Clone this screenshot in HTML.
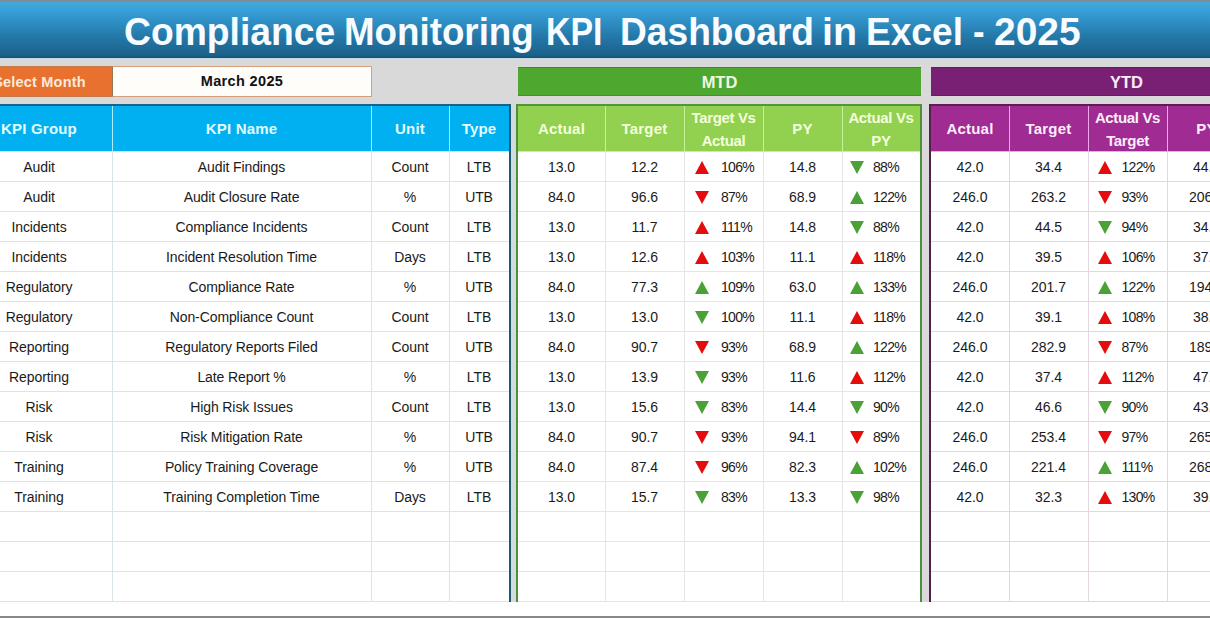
<!DOCTYPE html><html><head><meta charset="utf-8"><style>
*{margin:0;padding:0;box-sizing:border-box}
html,body{width:1210px;height:618px;overflow:hidden;background:#fff;font-family:"Liberation Sans",sans-serif}
.a{position:absolute}
.topstrip{left:0;top:0;width:1210px;height:2px;background:#7d8d98}
.title{left:0;top:2px;width:1210px;height:56px;background:linear-gradient(#4ba7d6,#38a3da 12%,#2f8fc4 35%,#2579aa 60%,#1e6894 85%,#1b5f88 96%,#15506f);color:#f6fcff;font-weight:bold;font-size:38.5px;line-height:59px;text-align:left}
.title span{position:absolute;top:0;white-space:nowrap;transform-origin:0 0}
.band{left:0;top:58px;width:1210px;height:543px;background:#d9d9d9}
.band2{left:0;top:58px;width:1210px;height:1px;background:#c6dbe6}
.sel{left:-34px;top:66px;width:147px;height:31px;border-top:1px solid #c27a48;border-bottom:1px solid #c27a48;background:#e8712f;color:#fbe9dc;font-weight:bold;font-size:14.5px;line-height:31px;letter-spacing:0.2px;text-align:center}
.month{left:112px;top:66px;width:260px;height:31px;background:#fffdfa;border:1px solid #d3a07a;border-left-color:#9c7452;color:#111;font-weight:bold;font-size:14.5px;line-height:29px;text-align:center;letter-spacing:0.35px}
.bar{top:67px;height:29px;font-weight:bold;font-size:16.5px;line-height:30px;text-align:center;box-shadow:inset 0 1px 0 rgba(0,0,0,.18),inset 0 -1px 0 rgba(0,0,0,.12)}
.mtd{left:518px;width:403px;background:#4ea72e;color:#eef9e4}
.ytd{left:931px;width:391px;background:#791f74;color:#fbeefa}
.c{position:absolute;height:30px;line-height:32px;font-size:14px;color:#1a1a1a;text-align:center;white-space:nowrap}
.hd{position:absolute;top:106px;height:45px;font-weight:bold;font-size:15px;letter-spacing:0.2px;text-align:center;display:flex;align-items:center;justify-content:center;line-height:23px}
.ar{position:absolute;top:10px}
.n{display:inline-block;font-size:14px}
</style></head><body>

<div class="a topstrip"></div>
<div class="a title"><span style="left:124.03px;transform:scaleX(0.9676)">Compliance</span><span style="left:344.39px;transform:scaleX(0.9541)">Monitoring</span><span style="left:546.24px;transform:scaleX(0.8800)">KPI</span><span style="left:619.57px;transform:scaleX(0.9650)">Dashboard</span><span style="left:821.73px;transform:scaleX(1.0241)">in</span><span style="left:865.87px;transform:scaleX(0.9635)">Excel</span><span style="left:972.70px;transform:scaleX(0.9000)">-</span><span style="left:993.99px;transform:scaleX(1.0119)">2025</span></div>
<div class="a band"></div><div class="a band2"></div><div class="a" style="left:511px;top:104px;width:5px;height:498px;background:#d3dcdc"></div><div class="a" style="left:922px;top:104px;width:7px;height:498px;background:#dcd9dc"></div>
<div class="a sel">Select Month</div>
<div class="a month">March 2025</div>
<div class="a bar mtd">MTD</div>
<div class="a bar ytd">YTD</div>
<div class="a" style="left:-34px;top:151px;width:543px;height:450px;background:#fff"></div>
<div class="a" style="left:-34px;top:106px;width:543px;height:45px;background:#00b0f0"></div>
<div class="a" style="left:-34px;top:181px;width:543px;height:1px;background:#dae5e9"></div>
<div class="a" style="left:-34px;top:211px;width:543px;height:1px;background:#dae5e9"></div>
<div class="a" style="left:-34px;top:241px;width:543px;height:1px;background:#dae5e9"></div>
<div class="a" style="left:-34px;top:271px;width:543px;height:1px;background:#dae5e9"></div>
<div class="a" style="left:-34px;top:301px;width:543px;height:1px;background:#dae5e9"></div>
<div class="a" style="left:-34px;top:331px;width:543px;height:1px;background:#dae5e9"></div>
<div class="a" style="left:-34px;top:361px;width:543px;height:1px;background:#dae5e9"></div>
<div class="a" style="left:-34px;top:391px;width:543px;height:1px;background:#dae5e9"></div>
<div class="a" style="left:-34px;top:421px;width:543px;height:1px;background:#dae5e9"></div>
<div class="a" style="left:-34px;top:451px;width:543px;height:1px;background:#dae5e9"></div>
<div class="a" style="left:-34px;top:481px;width:543px;height:1px;background:#dae5e9"></div>
<div class="a" style="left:-34px;top:511px;width:543px;height:1px;background:#dae5e9"></div>
<div class="a" style="left:-34px;top:541px;width:543px;height:1px;background:#dae5e9"></div>
<div class="a" style="left:-34px;top:571px;width:543px;height:1px;background:#dae5e9"></div>
<div class="a" style="left:-34px;top:601px;width:543px;height:1px;background:#dae5e9"></div>
<div class="a" style="left:112px;top:151px;width:1px;height:450px;background:#dae5e9"></div>
<div class="a" style="left:112px;top:106px;width:1px;height:45px;background:#a8f0ff"></div>
<div class="a" style="left:371px;top:151px;width:1px;height:450px;background:#dae5e9"></div>
<div class="a" style="left:371px;top:106px;width:1px;height:45px;background:#a8f0ff"></div>
<div class="a" style="left:449px;top:151px;width:1px;height:450px;background:#dae5e9"></div>
<div class="a" style="left:449px;top:106px;width:1px;height:45px;background:#a8f0ff"></div>
<div class="a" style="left:-34px;top:151px;width:543px;height:1px;background:#a8f0ff"></div>
<div class="hd" style="left:-34px;width:146px;color:#e4fbff">KPI Group</div>
<div class="hd" style="left:112px;width:259px;color:#e4fbff">KPI Name</div>
<div class="hd" style="left:371px;width:78px;color:#e4fbff">Unit</div>
<div class="hd" style="left:449px;width:60px;color:#e4fbff">Type</div>
<div class="c" style="left:-34px;top:151px;width:146px;letter-spacing:-0.1px">Audit</div>
<div class="c" style="left:112px;top:151px;width:259px;letter-spacing:-0.1px">Audit Findings</div>
<div class="c" style="left:371px;top:151px;width:78px;letter-spacing:-0.1px">Count</div>
<div class="c" style="left:449px;top:151px;width:60px;letter-spacing:-0.1px">LTB</div>
<div class="c" style="left:-34px;top:181px;width:146px;letter-spacing:-0.1px">Audit</div>
<div class="c" style="left:112px;top:181px;width:259px;letter-spacing:-0.1px">Audit Closure Rate</div>
<div class="c" style="left:371px;top:181px;width:78px;letter-spacing:-0.1px">%</div>
<div class="c" style="left:449px;top:181px;width:60px;letter-spacing:-0.1px">UTB</div>
<div class="c" style="left:-34px;top:211px;width:146px;letter-spacing:-0.1px">Incidents</div>
<div class="c" style="left:112px;top:211px;width:259px;letter-spacing:-0.1px">Compliance Incidents</div>
<div class="c" style="left:371px;top:211px;width:78px;letter-spacing:-0.1px">Count</div>
<div class="c" style="left:449px;top:211px;width:60px;letter-spacing:-0.1px">LTB</div>
<div class="c" style="left:-34px;top:241px;width:146px;letter-spacing:-0.1px">Incidents</div>
<div class="c" style="left:112px;top:241px;width:259px;letter-spacing:-0.1px">Incident Resolution Time</div>
<div class="c" style="left:371px;top:241px;width:78px;letter-spacing:-0.1px">Days</div>
<div class="c" style="left:449px;top:241px;width:60px;letter-spacing:-0.1px">LTB</div>
<div class="c" style="left:-34px;top:271px;width:146px;letter-spacing:-0.1px">Regulatory</div>
<div class="c" style="left:112px;top:271px;width:259px;letter-spacing:-0.1px">Compliance Rate</div>
<div class="c" style="left:371px;top:271px;width:78px;letter-spacing:-0.1px">%</div>
<div class="c" style="left:449px;top:271px;width:60px;letter-spacing:-0.1px">UTB</div>
<div class="c" style="left:-34px;top:301px;width:146px;letter-spacing:-0.1px">Regulatory</div>
<div class="c" style="left:112px;top:301px;width:259px;letter-spacing:-0.1px">Non-Compliance Count</div>
<div class="c" style="left:371px;top:301px;width:78px;letter-spacing:-0.1px">Count</div>
<div class="c" style="left:449px;top:301px;width:60px;letter-spacing:-0.1px">LTB</div>
<div class="c" style="left:-34px;top:331px;width:146px;letter-spacing:-0.1px">Reporting</div>
<div class="c" style="left:112px;top:331px;width:259px;letter-spacing:-0.1px">Regulatory Reports Filed</div>
<div class="c" style="left:371px;top:331px;width:78px;letter-spacing:-0.1px">Count</div>
<div class="c" style="left:449px;top:331px;width:60px;letter-spacing:-0.1px">UTB</div>
<div class="c" style="left:-34px;top:361px;width:146px;letter-spacing:-0.1px">Reporting</div>
<div class="c" style="left:112px;top:361px;width:259px;letter-spacing:-0.1px">Late Report %</div>
<div class="c" style="left:371px;top:361px;width:78px;letter-spacing:-0.1px">%</div>
<div class="c" style="left:449px;top:361px;width:60px;letter-spacing:-0.1px">LTB</div>
<div class="c" style="left:-34px;top:391px;width:146px;letter-spacing:-0.1px">Risk</div>
<div class="c" style="left:112px;top:391px;width:259px;letter-spacing:-0.1px">High Risk Issues</div>
<div class="c" style="left:371px;top:391px;width:78px;letter-spacing:-0.1px">Count</div>
<div class="c" style="left:449px;top:391px;width:60px;letter-spacing:-0.1px">LTB</div>
<div class="c" style="left:-34px;top:421px;width:146px;letter-spacing:-0.1px">Risk</div>
<div class="c" style="left:112px;top:421px;width:259px;letter-spacing:-0.1px">Risk Mitigation Rate</div>
<div class="c" style="left:371px;top:421px;width:78px;letter-spacing:-0.1px">%</div>
<div class="c" style="left:449px;top:421px;width:60px;letter-spacing:-0.1px">UTB</div>
<div class="c" style="left:-34px;top:451px;width:146px;letter-spacing:-0.1px">Training</div>
<div class="c" style="left:112px;top:451px;width:259px;letter-spacing:-0.1px">Policy Training Coverage</div>
<div class="c" style="left:371px;top:451px;width:78px;letter-spacing:-0.1px">%</div>
<div class="c" style="left:449px;top:451px;width:60px;letter-spacing:-0.1px">UTB</div>
<div class="c" style="left:-34px;top:481px;width:146px;letter-spacing:-0.1px">Training</div>
<div class="c" style="left:112px;top:481px;width:259px;letter-spacing:-0.1px">Training Completion Time</div>
<div class="c" style="left:371px;top:481px;width:78px;letter-spacing:-0.1px">Days</div>
<div class="c" style="left:449px;top:481px;width:60px;letter-spacing:-0.1px">LTB</div>
<div class="a" style="left:-34px;top:104px;width:545px;height:2px;background:#16638c"></div>
<div class="a" style="left:509px;top:104px;width:2px;height:498px;background:#1f5a72"></div>
<div class="a" style="left:518px;top:151px;width:402px;height:450px;background:#fff"></div>
<div class="a" style="left:518px;top:106px;width:402px;height:45px;background:#92d050"></div>
<div class="a" style="left:518px;top:181px;width:402px;height:1px;background:#e3e7e0"></div>
<div class="a" style="left:518px;top:211px;width:402px;height:1px;background:#e3e7e0"></div>
<div class="a" style="left:518px;top:241px;width:402px;height:1px;background:#e3e7e0"></div>
<div class="a" style="left:518px;top:271px;width:402px;height:1px;background:#e3e7e0"></div>
<div class="a" style="left:518px;top:301px;width:402px;height:1px;background:#e3e7e0"></div>
<div class="a" style="left:518px;top:331px;width:402px;height:1px;background:#e3e7e0"></div>
<div class="a" style="left:518px;top:361px;width:402px;height:1px;background:#e3e7e0"></div>
<div class="a" style="left:518px;top:391px;width:402px;height:1px;background:#e3e7e0"></div>
<div class="a" style="left:518px;top:421px;width:402px;height:1px;background:#e3e7e0"></div>
<div class="a" style="left:518px;top:451px;width:402px;height:1px;background:#e3e7e0"></div>
<div class="a" style="left:518px;top:481px;width:402px;height:1px;background:#e3e7e0"></div>
<div class="a" style="left:518px;top:511px;width:402px;height:1px;background:#e3e7e0"></div>
<div class="a" style="left:518px;top:541px;width:402px;height:1px;background:#e3e7e0"></div>
<div class="a" style="left:518px;top:571px;width:402px;height:1px;background:#e3e7e0"></div>
<div class="a" style="left:518px;top:601px;width:402px;height:1px;background:#e3e7e0"></div>
<div class="a" style="left:605px;top:151px;width:1px;height:450px;background:#e3e7e0"></div>
<div class="a" style="left:605px;top:106px;width:1px;height:45px;background:#c4f29a"></div>
<div class="a" style="left:684px;top:151px;width:1px;height:450px;background:#e3e7e0"></div>
<div class="a" style="left:684px;top:106px;width:1px;height:45px;background:#c4f29a"></div>
<div class="a" style="left:763px;top:151px;width:1px;height:450px;background:#e3e7e0"></div>
<div class="a" style="left:763px;top:106px;width:1px;height:45px;background:#c4f29a"></div>
<div class="a" style="left:842px;top:151px;width:1px;height:450px;background:#e3e7e0"></div>
<div class="a" style="left:842px;top:106px;width:1px;height:45px;background:#c4f29a"></div>
<div class="a" style="left:518px;top:151px;width:402px;height:1px;background:#c4f29a"></div>
<div class="hd" style="left:518px;width:87px;color:#f4ffdc">Actual</div>
<div class="hd" style="left:605px;width:79px;color:#f4ffdc">Target</div>
<div class="hd" style="left:684px;width:79px;color:#f4ffdc;letter-spacing:-0.35px">Target Vs<br>Actual</div>
<div class="hd" style="left:763px;width:79px;color:#f4ffdc">PY</div>
<div class="hd" style="left:842px;width:78px;color:#f4ffdc;letter-spacing:-0.35px">Actual Vs<br>PY</div>
<div class="c" style="left:518px;top:151px;width:87px"><span class="n">13.0</span></div>
<div class="c" style="left:605px;top:151px;width:79px"><span class="n">12.2</span></div>
<div class="c" style="left:684px;top:151px;width:79px"><svg class="ar" width="14" height="13" viewBox="0 0 14 13" style="left:10.5px;top:10px"><polygon points="0,13 7,0 14,13" fill="#e40c0c"/></svg><span class="n" style="position:absolute;left:37px;letter-spacing:-0.7px">106%</span></div>
<div class="c" style="left:763px;top:151px;width:79px"><span class="n">14.8</span></div>
<div class="c" style="left:842px;top:151px;width:78px"><svg class="ar" width="14" height="13" viewBox="0 0 14 13" style="left:7.5px;top:9.5px"><polygon points="0,0 14,0 7,13" fill="#4aa135"/></svg><span class="n" style="position:absolute;left:31px;letter-spacing:-0.7px">88%</span></div>
<div class="c" style="left:518px;top:181px;width:87px"><span class="n">84.0</span></div>
<div class="c" style="left:605px;top:181px;width:79px"><span class="n">96.6</span></div>
<div class="c" style="left:684px;top:181px;width:79px"><svg class="ar" width="14" height="13" viewBox="0 0 14 13" style="left:10.5px;top:9.5px"><polygon points="0,0 14,0 7,13" fill="#e40c0c"/></svg><span class="n" style="position:absolute;left:37px;letter-spacing:-0.7px">87%</span></div>
<div class="c" style="left:763px;top:181px;width:79px"><span class="n">68.9</span></div>
<div class="c" style="left:842px;top:181px;width:78px"><svg class="ar" width="14" height="13" viewBox="0 0 14 13" style="left:7.5px;top:10px"><polygon points="0,13 7,0 14,13" fill="#4aa135"/></svg><span class="n" style="position:absolute;left:31px;letter-spacing:-0.7px">122%</span></div>
<div class="c" style="left:518px;top:211px;width:87px"><span class="n">13.0</span></div>
<div class="c" style="left:605px;top:211px;width:79px"><span class="n">11.7</span></div>
<div class="c" style="left:684px;top:211px;width:79px"><svg class="ar" width="14" height="13" viewBox="0 0 14 13" style="left:10.5px;top:10px"><polygon points="0,13 7,0 14,13" fill="#e40c0c"/></svg><span class="n" style="position:absolute;left:37px;letter-spacing:-0.7px">111%</span></div>
<div class="c" style="left:763px;top:211px;width:79px"><span class="n">14.8</span></div>
<div class="c" style="left:842px;top:211px;width:78px"><svg class="ar" width="14" height="13" viewBox="0 0 14 13" style="left:7.5px;top:9.5px"><polygon points="0,0 14,0 7,13" fill="#4aa135"/></svg><span class="n" style="position:absolute;left:31px;letter-spacing:-0.7px">88%</span></div>
<div class="c" style="left:518px;top:241px;width:87px"><span class="n">13.0</span></div>
<div class="c" style="left:605px;top:241px;width:79px"><span class="n">12.6</span></div>
<div class="c" style="left:684px;top:241px;width:79px"><svg class="ar" width="14" height="13" viewBox="0 0 14 13" style="left:10.5px;top:10px"><polygon points="0,13 7,0 14,13" fill="#e40c0c"/></svg><span class="n" style="position:absolute;left:37px;letter-spacing:-0.7px">103%</span></div>
<div class="c" style="left:763px;top:241px;width:79px"><span class="n">11.1</span></div>
<div class="c" style="left:842px;top:241px;width:78px"><svg class="ar" width="14" height="13" viewBox="0 0 14 13" style="left:7.5px;top:10px"><polygon points="0,13 7,0 14,13" fill="#e40c0c"/></svg><span class="n" style="position:absolute;left:31px;letter-spacing:-0.7px">118%</span></div>
<div class="c" style="left:518px;top:271px;width:87px"><span class="n">84.0</span></div>
<div class="c" style="left:605px;top:271px;width:79px"><span class="n">77.3</span></div>
<div class="c" style="left:684px;top:271px;width:79px"><svg class="ar" width="14" height="13" viewBox="0 0 14 13" style="left:10.5px;top:10px"><polygon points="0,13 7,0 14,13" fill="#4aa135"/></svg><span class="n" style="position:absolute;left:37px;letter-spacing:-0.7px">109%</span></div>
<div class="c" style="left:763px;top:271px;width:79px"><span class="n">63.0</span></div>
<div class="c" style="left:842px;top:271px;width:78px"><svg class="ar" width="14" height="13" viewBox="0 0 14 13" style="left:7.5px;top:10px"><polygon points="0,13 7,0 14,13" fill="#4aa135"/></svg><span class="n" style="position:absolute;left:31px;letter-spacing:-0.7px">133%</span></div>
<div class="c" style="left:518px;top:301px;width:87px"><span class="n">13.0</span></div>
<div class="c" style="left:605px;top:301px;width:79px"><span class="n">13.0</span></div>
<div class="c" style="left:684px;top:301px;width:79px"><svg class="ar" width="14" height="13" viewBox="0 0 14 13" style="left:10.5px;top:9.5px"><polygon points="0,0 14,0 7,13" fill="#4aa135"/></svg><span class="n" style="position:absolute;left:37px;letter-spacing:-0.7px">100%</span></div>
<div class="c" style="left:763px;top:301px;width:79px"><span class="n">11.1</span></div>
<div class="c" style="left:842px;top:301px;width:78px"><svg class="ar" width="14" height="13" viewBox="0 0 14 13" style="left:7.5px;top:10px"><polygon points="0,13 7,0 14,13" fill="#e40c0c"/></svg><span class="n" style="position:absolute;left:31px;letter-spacing:-0.7px">118%</span></div>
<div class="c" style="left:518px;top:331px;width:87px"><span class="n">84.0</span></div>
<div class="c" style="left:605px;top:331px;width:79px"><span class="n">90.7</span></div>
<div class="c" style="left:684px;top:331px;width:79px"><svg class="ar" width="14" height="13" viewBox="0 0 14 13" style="left:10.5px;top:9.5px"><polygon points="0,0 14,0 7,13" fill="#e40c0c"/></svg><span class="n" style="position:absolute;left:37px;letter-spacing:-0.7px">93%</span></div>
<div class="c" style="left:763px;top:331px;width:79px"><span class="n">68.9</span></div>
<div class="c" style="left:842px;top:331px;width:78px"><svg class="ar" width="14" height="13" viewBox="0 0 14 13" style="left:7.5px;top:10px"><polygon points="0,13 7,0 14,13" fill="#4aa135"/></svg><span class="n" style="position:absolute;left:31px;letter-spacing:-0.7px">122%</span></div>
<div class="c" style="left:518px;top:361px;width:87px"><span class="n">13.0</span></div>
<div class="c" style="left:605px;top:361px;width:79px"><span class="n">13.9</span></div>
<div class="c" style="left:684px;top:361px;width:79px"><svg class="ar" width="14" height="13" viewBox="0 0 14 13" style="left:10.5px;top:9.5px"><polygon points="0,0 14,0 7,13" fill="#4aa135"/></svg><span class="n" style="position:absolute;left:37px;letter-spacing:-0.7px">93%</span></div>
<div class="c" style="left:763px;top:361px;width:79px"><span class="n">11.6</span></div>
<div class="c" style="left:842px;top:361px;width:78px"><svg class="ar" width="14" height="13" viewBox="0 0 14 13" style="left:7.5px;top:10px"><polygon points="0,13 7,0 14,13" fill="#e40c0c"/></svg><span class="n" style="position:absolute;left:31px;letter-spacing:-0.7px">112%</span></div>
<div class="c" style="left:518px;top:391px;width:87px"><span class="n">13.0</span></div>
<div class="c" style="left:605px;top:391px;width:79px"><span class="n">15.6</span></div>
<div class="c" style="left:684px;top:391px;width:79px"><svg class="ar" width="14" height="13" viewBox="0 0 14 13" style="left:10.5px;top:9.5px"><polygon points="0,0 14,0 7,13" fill="#4aa135"/></svg><span class="n" style="position:absolute;left:37px;letter-spacing:-0.7px">83%</span></div>
<div class="c" style="left:763px;top:391px;width:79px"><span class="n">14.4</span></div>
<div class="c" style="left:842px;top:391px;width:78px"><svg class="ar" width="14" height="13" viewBox="0 0 14 13" style="left:7.5px;top:9.5px"><polygon points="0,0 14,0 7,13" fill="#4aa135"/></svg><span class="n" style="position:absolute;left:31px;letter-spacing:-0.7px">90%</span></div>
<div class="c" style="left:518px;top:421px;width:87px"><span class="n">84.0</span></div>
<div class="c" style="left:605px;top:421px;width:79px"><span class="n">90.7</span></div>
<div class="c" style="left:684px;top:421px;width:79px"><svg class="ar" width="14" height="13" viewBox="0 0 14 13" style="left:10.5px;top:9.5px"><polygon points="0,0 14,0 7,13" fill="#e40c0c"/></svg><span class="n" style="position:absolute;left:37px;letter-spacing:-0.7px">93%</span></div>
<div class="c" style="left:763px;top:421px;width:79px"><span class="n">94.1</span></div>
<div class="c" style="left:842px;top:421px;width:78px"><svg class="ar" width="14" height="13" viewBox="0 0 14 13" style="left:7.5px;top:9.5px"><polygon points="0,0 14,0 7,13" fill="#e40c0c"/></svg><span class="n" style="position:absolute;left:31px;letter-spacing:-0.7px">89%</span></div>
<div class="c" style="left:518px;top:451px;width:87px"><span class="n">84.0</span></div>
<div class="c" style="left:605px;top:451px;width:79px"><span class="n">87.4</span></div>
<div class="c" style="left:684px;top:451px;width:79px"><svg class="ar" width="14" height="13" viewBox="0 0 14 13" style="left:10.5px;top:9.5px"><polygon points="0,0 14,0 7,13" fill="#e40c0c"/></svg><span class="n" style="position:absolute;left:37px;letter-spacing:-0.7px">96%</span></div>
<div class="c" style="left:763px;top:451px;width:79px"><span class="n">82.3</span></div>
<div class="c" style="left:842px;top:451px;width:78px"><svg class="ar" width="14" height="13" viewBox="0 0 14 13" style="left:7.5px;top:10px"><polygon points="0,13 7,0 14,13" fill="#4aa135"/></svg><span class="n" style="position:absolute;left:31px;letter-spacing:-0.7px">102%</span></div>
<div class="c" style="left:518px;top:481px;width:87px"><span class="n">13.0</span></div>
<div class="c" style="left:605px;top:481px;width:79px"><span class="n">15.7</span></div>
<div class="c" style="left:684px;top:481px;width:79px"><svg class="ar" width="14" height="13" viewBox="0 0 14 13" style="left:10.5px;top:9.5px"><polygon points="0,0 14,0 7,13" fill="#4aa135"/></svg><span class="n" style="position:absolute;left:37px;letter-spacing:-0.7px">83%</span></div>
<div class="c" style="left:763px;top:481px;width:79px"><span class="n">13.3</span></div>
<div class="c" style="left:842px;top:481px;width:78px"><svg class="ar" width="14" height="13" viewBox="0 0 14 13" style="left:7.5px;top:9.5px"><polygon points="0,0 14,0 7,13" fill="#4aa135"/></svg><span class="n" style="position:absolute;left:31px;letter-spacing:-0.7px">98%</span></div>
<div class="a" style="left:518px;top:104px;width:404px;height:2px;background:#4f9a36"></div>
<div class="a" style="left:516px;top:104px;width:2px;height:498px;background:#4e8f3e"></div>
<div class="a" style="left:920px;top:104px;width:2px;height:498px;background:#4e8f3e"></div>
<div class="a" style="left:931px;top:151px;width:315px;height:450px;background:#fff"></div>
<div class="a" style="left:931px;top:106px;width:315px;height:45px;background:#a02b93"></div>
<div class="a" style="left:931px;top:181px;width:315px;height:1px;background:#e2d6e0"></div>
<div class="a" style="left:931px;top:211px;width:315px;height:1px;background:#e2d6e0"></div>
<div class="a" style="left:931px;top:241px;width:315px;height:1px;background:#e2d6e0"></div>
<div class="a" style="left:931px;top:271px;width:315px;height:1px;background:#e2d6e0"></div>
<div class="a" style="left:931px;top:301px;width:315px;height:1px;background:#e2d6e0"></div>
<div class="a" style="left:931px;top:331px;width:315px;height:1px;background:#e2d6e0"></div>
<div class="a" style="left:931px;top:361px;width:315px;height:1px;background:#e2d6e0"></div>
<div class="a" style="left:931px;top:391px;width:315px;height:1px;background:#e2d6e0"></div>
<div class="a" style="left:931px;top:421px;width:315px;height:1px;background:#e2d6e0"></div>
<div class="a" style="left:931px;top:451px;width:315px;height:1px;background:#e2d6e0"></div>
<div class="a" style="left:931px;top:481px;width:315px;height:1px;background:#e2d6e0"></div>
<div class="a" style="left:931px;top:511px;width:315px;height:1px;background:#e2d6e0"></div>
<div class="a" style="left:931px;top:541px;width:315px;height:1px;background:#e2d6e0"></div>
<div class="a" style="left:931px;top:571px;width:315px;height:1px;background:#e2d6e0"></div>
<div class="a" style="left:931px;top:601px;width:315px;height:1px;background:#e2d6e0"></div>
<div class="a" style="left:1009px;top:151px;width:1px;height:450px;background:#e2d6e0"></div>
<div class="a" style="left:1009px;top:106px;width:1px;height:45px;background:#eea6ec"></div>
<div class="a" style="left:1088px;top:151px;width:1px;height:450px;background:#e2d6e0"></div>
<div class="a" style="left:1088px;top:106px;width:1px;height:45px;background:#eea6ec"></div>
<div class="a" style="left:1167px;top:151px;width:1px;height:450px;background:#e2d6e0"></div>
<div class="a" style="left:1167px;top:106px;width:1px;height:45px;background:#eea6ec"></div>
<div class="a" style="left:931px;top:151px;width:315px;height:1px;background:#eea6ec"></div>
<div class="hd" style="left:931px;width:78px;color:#fbeefa">Actual</div>
<div class="hd" style="left:1009px;width:79px;color:#fbeefa">Target</div>
<div class="hd" style="left:1088px;width:79px;color:#fbeefa;letter-spacing:-0.35px">Actual Vs<br>Target</div>
<div class="hd" style="left:1167px;width:79px;color:#fbeefa">PY</div>
<div class="c" style="left:931px;top:151px;width:78px"><span class="n">42.0</span></div>
<div class="c" style="left:1009px;top:151px;width:79px"><span class="n">34.4</span></div>
<div class="c" style="left:1088px;top:151px;width:79px"><svg class="ar" width="14" height="13" viewBox="0 0 14 13" style="left:9.5px;top:10px"><polygon points="0,13 7,0 14,13" fill="#e40c0c"/></svg><span class="n" style="position:absolute;left:33.5px;letter-spacing:-0.7px">122%</span></div>
<div class="c" style="left:1167px;top:151px;width:79px"><span class="n">44.8</span></div>
<div class="c" style="left:931px;top:181px;width:78px"><span class="n">246.0</span></div>
<div class="c" style="left:1009px;top:181px;width:79px"><span class="n">263.2</span></div>
<div class="c" style="left:1088px;top:181px;width:79px"><svg class="ar" width="14" height="13" viewBox="0 0 14 13" style="left:9.5px;top:9.5px"><polygon points="0,0 14,0 7,13" fill="#e40c0c"/></svg><span class="n" style="position:absolute;left:33.5px;letter-spacing:-0.7px">93%</span></div>
<div class="c" style="left:1167px;top:181px;width:79px"><span class="n">206.7</span></div>
<div class="c" style="left:931px;top:211px;width:78px"><span class="n">42.0</span></div>
<div class="c" style="left:1009px;top:211px;width:79px"><span class="n">44.5</span></div>
<div class="c" style="left:1088px;top:211px;width:79px"><svg class="ar" width="14" height="13" viewBox="0 0 14 13" style="left:9.5px;top:9.5px"><polygon points="0,0 14,0 7,13" fill="#4aa135"/></svg><span class="n" style="position:absolute;left:33.5px;letter-spacing:-0.7px">94%</span></div>
<div class="c" style="left:1167px;top:211px;width:79px"><span class="n">34.4</span></div>
<div class="c" style="left:931px;top:241px;width:78px"><span class="n">42.0</span></div>
<div class="c" style="left:1009px;top:241px;width:79px"><span class="n">39.5</span></div>
<div class="c" style="left:1088px;top:241px;width:79px"><svg class="ar" width="14" height="13" viewBox="0 0 14 13" style="left:9.5px;top:10px"><polygon points="0,13 7,0 14,13" fill="#e40c0c"/></svg><span class="n" style="position:absolute;left:33.5px;letter-spacing:-0.7px">106%</span></div>
<div class="c" style="left:1167px;top:241px;width:79px"><span class="n">37.4</span></div>
<div class="c" style="left:931px;top:271px;width:78px"><span class="n">246.0</span></div>
<div class="c" style="left:1009px;top:271px;width:79px"><span class="n">201.7</span></div>
<div class="c" style="left:1088px;top:271px;width:79px"><svg class="ar" width="14" height="13" viewBox="0 0 14 13" style="left:9.5px;top:10px"><polygon points="0,13 7,0 14,13" fill="#4aa135"/></svg><span class="n" style="position:absolute;left:33.5px;letter-spacing:-0.7px">122%</span></div>
<div class="c" style="left:1167px;top:271px;width:79px"><span class="n">194.0</span></div>
<div class="c" style="left:931px;top:301px;width:78px"><span class="n">42.0</span></div>
<div class="c" style="left:1009px;top:301px;width:79px"><span class="n">39.1</span></div>
<div class="c" style="left:1088px;top:301px;width:79px"><svg class="ar" width="14" height="13" viewBox="0 0 14 13" style="left:9.5px;top:10px"><polygon points="0,13 7,0 14,13" fill="#e40c0c"/></svg><span class="n" style="position:absolute;left:33.5px;letter-spacing:-0.7px">108%</span></div>
<div class="c" style="left:1167px;top:301px;width:79px"><span class="n">38.4</span></div>
<div class="c" style="left:931px;top:331px;width:78px"><span class="n">246.0</span></div>
<div class="c" style="left:1009px;top:331px;width:79px"><span class="n">282.9</span></div>
<div class="c" style="left:1088px;top:331px;width:79px"><svg class="ar" width="14" height="13" viewBox="0 0 14 13" style="left:9.5px;top:9.5px"><polygon points="0,0 14,0 7,13" fill="#e40c0c"/></svg><span class="n" style="position:absolute;left:33.5px;letter-spacing:-0.7px">87%</span></div>
<div class="c" style="left:1167px;top:331px;width:79px"><span class="n">189.0</span></div>
<div class="c" style="left:931px;top:361px;width:78px"><span class="n">42.0</span></div>
<div class="c" style="left:1009px;top:361px;width:79px"><span class="n">37.4</span></div>
<div class="c" style="left:1088px;top:361px;width:79px"><svg class="ar" width="14" height="13" viewBox="0 0 14 13" style="left:9.5px;top:10px"><polygon points="0,13 7,0 14,13" fill="#e40c0c"/></svg><span class="n" style="position:absolute;left:33.5px;letter-spacing:-0.7px">112%</span></div>
<div class="c" style="left:1167px;top:361px;width:79px"><span class="n">47.4</span></div>
<div class="c" style="left:931px;top:391px;width:78px"><span class="n">42.0</span></div>
<div class="c" style="left:1009px;top:391px;width:79px"><span class="n">46.6</span></div>
<div class="c" style="left:1088px;top:391px;width:79px"><svg class="ar" width="14" height="13" viewBox="0 0 14 13" style="left:9.5px;top:9.5px"><polygon points="0,0 14,0 7,13" fill="#4aa135"/></svg><span class="n" style="position:absolute;left:33.5px;letter-spacing:-0.7px">90%</span></div>
<div class="c" style="left:1167px;top:391px;width:79px"><span class="n">43.4</span></div>
<div class="c" style="left:931px;top:421px;width:78px"><span class="n">246.0</span></div>
<div class="c" style="left:1009px;top:421px;width:79px"><span class="n">253.4</span></div>
<div class="c" style="left:1088px;top:421px;width:79px"><svg class="ar" width="14" height="13" viewBox="0 0 14 13" style="left:9.5px;top:9.5px"><polygon points="0,0 14,0 7,13" fill="#e40c0c"/></svg><span class="n" style="position:absolute;left:33.5px;letter-spacing:-0.7px">97%</span></div>
<div class="c" style="left:1167px;top:421px;width:79px"><span class="n">265.0</span></div>
<div class="c" style="left:931px;top:451px;width:78px"><span class="n">246.0</span></div>
<div class="c" style="left:1009px;top:451px;width:79px"><span class="n">221.4</span></div>
<div class="c" style="left:1088px;top:451px;width:79px"><svg class="ar" width="14" height="13" viewBox="0 0 14 13" style="left:9.5px;top:10px"><polygon points="0,13 7,0 14,13" fill="#4aa135"/></svg><span class="n" style="position:absolute;left:33.5px;letter-spacing:-0.7px">111%</span></div>
<div class="c" style="left:1167px;top:451px;width:79px"><span class="n">268.0</span></div>
<div class="c" style="left:931px;top:481px;width:78px"><span class="n">42.0</span></div>
<div class="c" style="left:1009px;top:481px;width:79px"><span class="n">32.3</span></div>
<div class="c" style="left:1088px;top:481px;width:79px"><svg class="ar" width="14" height="13" viewBox="0 0 14 13" style="left:9.5px;top:10px"><polygon points="0,13 7,0 14,13" fill="#e40c0c"/></svg><span class="n" style="position:absolute;left:33.5px;letter-spacing:-0.7px">130%</span></div>
<div class="c" style="left:1167px;top:481px;width:79px"><span class="n">39.4</span></div>
<div class="a" style="left:931px;top:104px;width:317px;height:2px;background:#5e1d57"></div>
<div class="a" style="left:929px;top:104px;width:2px;height:498px;background:#52214c"></div>
<div class="a" style="left:0;top:602px;width:1210px;height:14px;background:#fff"></div>
<div class="a" style="left:0;top:616px;width:1210px;height:2px;background:#888"></div>
</body></html>
